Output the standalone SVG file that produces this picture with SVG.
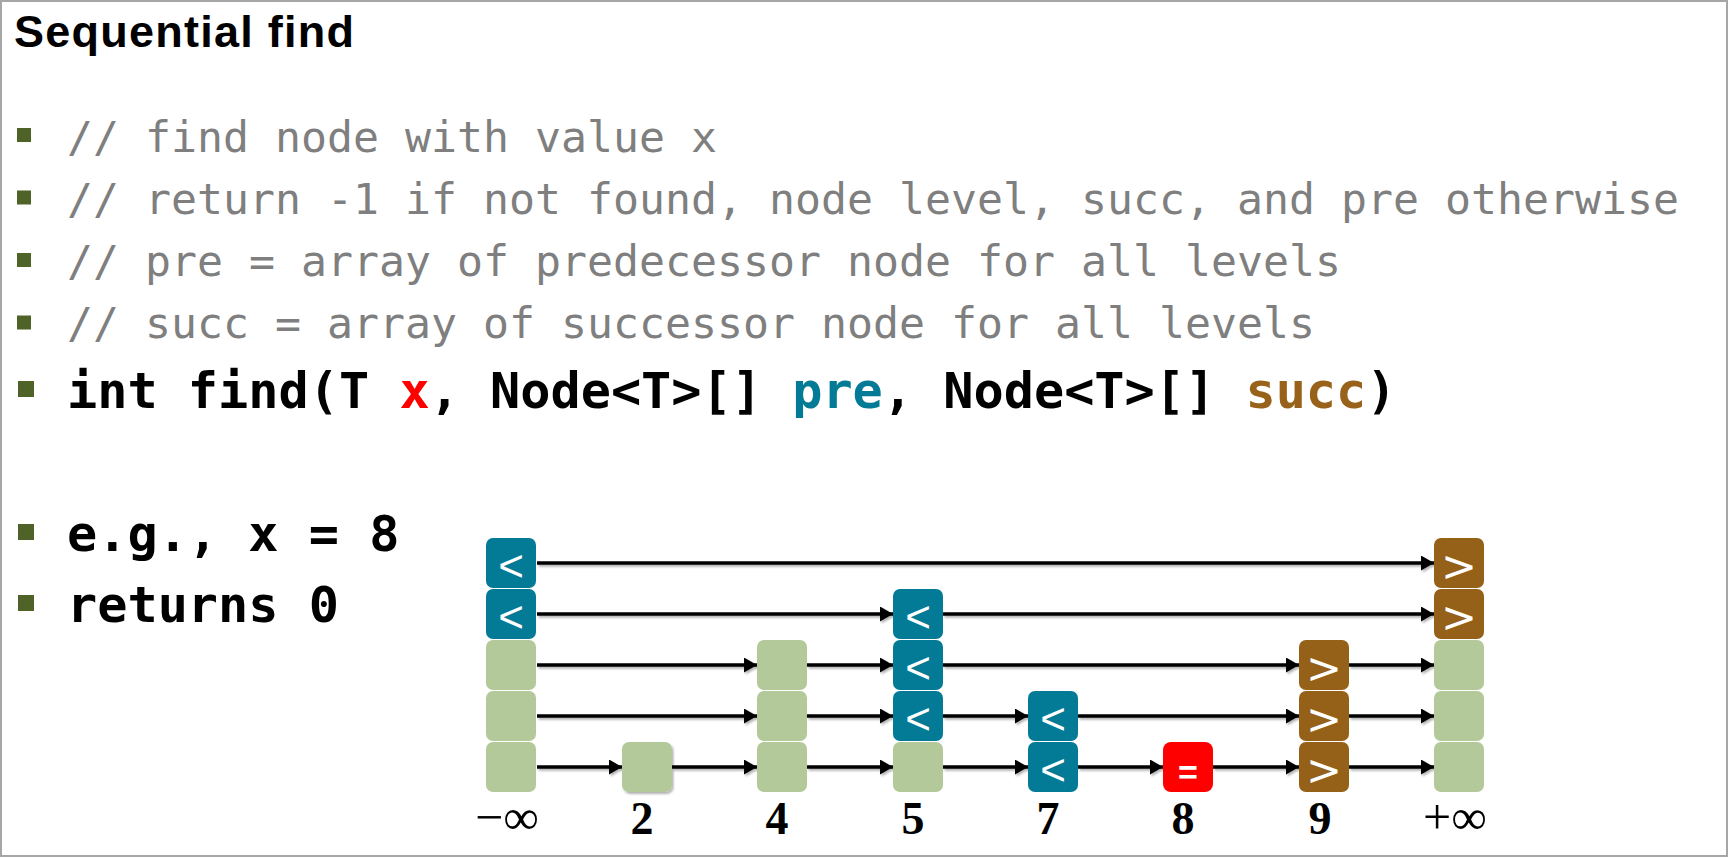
<svg xmlns="http://www.w3.org/2000/svg" width="1733" height="858" viewBox="0 0 1733 858">
<style>
.title{font-family:"Liberation Sans",Arial,sans-serif;font-weight:bold;font-size:45px;fill:#000}
.cm{font-family:"DejaVu Sans Mono","Liberation Mono",monospace;font-size:43.2px;fill:#7F7F7F}
.cd{font-family:"DejaVu Sans Mono","Liberation Mono",monospace;font-weight:bold;font-size:50.2px;fill:#000}
.bul{fill:#4F6228}
.g{fill:#B3C999}
.t{fill:#037B96}
.b{fill:#956017}
.r{fill:#FF0000}
.lt{font-family:"Liberation Sans",Arial,sans-serif;font-size:44px;fill:#fff;text-anchor:middle}
.gt{font-family:"DejaVu Sans","Liberation Sans",sans-serif;font-size:43px;fill:#fff;text-anchor:middle}
.eq{font-family:"Liberation Sans",Arial,sans-serif;font-weight:bold;font-size:34px;fill:#fff;text-anchor:middle}
.lab{font-family:"Liberation Serif","DejaVu Serif",serif;font-weight:bold;font-size:46px;fill:#000;text-anchor:middle}
.inf{font-family:"Liberation Serif","DejaVu Serif",serif;font-size:50px;fill:#000;text-anchor:middle}
.conn line{stroke:#000;stroke-width:3.5;marker-end:url(#ah)}
</style>
<defs>
<marker id="ah" markerUnits="userSpaceOnUse" markerWidth="14" markerHeight="16" refX="13" refY="7.5" orient="auto">
<path d="M0,0 L13,7.5 L0,15 z" fill="#000"/>
</marker>
<filter id="sh" x="-5%" y="-50%" width="110%" height="250%">
<feDropShadow dx="1.5" dy="2" stdDeviation="1.2" flood-color="#000" flood-opacity="0.3"/>
</filter>
</defs>
<rect x="0" y="0" width="1733" height="858" fill="#fff"/>
<rect x="1" y="1" width="1726" height="855" fill="none" stroke="#A6A6A6" stroke-width="2"/>

<g id="text">
<text class="title" x="14" y="47" textLength="340" lengthAdjust="spacing">Sequential find</text>
<rect class="bul" x="17" y="128" width="14" height="14"/>
<rect class="bul" x="17" y="190.5" width="14" height="14"/>
<rect class="bul" x="17" y="253" width="14" height="14"/>
<rect class="bul" x="17" y="315.5" width="14" height="14"/>
<text class="cm" x="67" y="152">// find node with value x</text>
<text class="cm" x="67" y="214">// return -1 if not found, node level, succ, and pre otherwise</text>
<text class="cm" x="67" y="276">// pre = array of predecessor node for all levels</text>
<text class="cm" x="67" y="338">// succ = array of successor node for all levels</text>
<rect class="bul" x="18" y="381" width="16" height="16"/>
<text class="cd" x="67" y="408">int find(T <tspan fill="#FF0000">x</tspan>, Node&lt;T&gt;[] <tspan fill="#037B96">pre</tspan>, Node&lt;T&gt;[] <tspan fill="#98621A">succ</tspan>)</text>
<rect class="bul" x="18" y="524" width="16" height="16"/>
<text class="cd" x="67" y="551">e.g., x = 8</text>
<rect class="bul" x="18" y="595" width="16" height="16"/>
<text class="cd" x="67" y="622">returns 0</text>
</g>

<g id="connectors" class="conn" filter="url(#sh)">
<line x1="537" y1="563" x2="1434" y2="563"/>
<line x1="537" y1="614" x2="893" y2="614"/>
<line x1="943" y1="614" x2="1434" y2="614"/>
<line x1="537" y1="665" x2="757" y2="665"/>
<line x1="807" y1="665" x2="893" y2="665"/>
<line x1="943" y1="665" x2="1299" y2="665"/>
<line x1="1349" y1="665" x2="1434" y2="665"/>
<line x1="537" y1="716" x2="757" y2="716"/>
<line x1="807" y1="716" x2="893" y2="716"/>
<line x1="943" y1="716" x2="1028" y2="716"/>
<line x1="1078" y1="716" x2="1299" y2="716"/>
<line x1="1349" y1="716" x2="1434" y2="716"/>
<line x1="537" y1="767" x2="622" y2="767"/>
<line x1="672" y1="767" x2="757" y2="767"/>
<line x1="807" y1="767" x2="893" y2="767"/>
<line x1="943" y1="767" x2="1028" y2="767"/>
<line x1="1078" y1="767" x2="1163" y2="767"/>
<line x1="1213" y1="767" x2="1299" y2="767"/>
<line x1="1349" y1="767" x2="1434" y2="767"/>
</g>

<g id="node-neg-inf">
<rect class="t" x="486" y="538" width="50" height="50" rx="7"/>
<rect class="t" x="486" y="589" width="50" height="50" rx="7"/>
<rect class="g" x="486" y="640" width="50" height="50" rx="7"/>
<rect class="g" x="486" y="691" width="50" height="50" rx="7"/>
<rect class="g" x="486" y="742" width="50" height="50" rx="7"/>
<text class="lt" x="511" y="581">&lt;</text>
<text class="lt" x="511" y="632">&lt;</text>
<text class="inf" x="507" y="834">−∞</text>
</g>

<g id="node-2">
<rect class="g" x="622" y="742" width="50" height="50" rx="7" filter="url(#sh)"/>
<text class="lab" x="642" y="834">2</text>
</g>

<g id="node-4">
<rect class="g" x="757" y="640" width="50" height="50" rx="7"/>
<rect class="g" x="757" y="691" width="50" height="50" rx="7"/>
<rect class="g" x="757" y="742" width="50" height="50" rx="7"/>
<text class="lab" x="777" y="834">4</text>
</g>

<g id="node-5">
<rect class="t" x="893" y="589" width="50" height="50" rx="7"/>
<rect class="t" x="893" y="640" width="50" height="50" rx="7"/>
<rect class="t" x="893" y="691" width="50" height="50" rx="7"/>
<rect class="g" x="893" y="742" width="50" height="50" rx="7"/>
<text class="lt" x="918" y="632">&lt;</text>
<text class="lt" x="918" y="683">&lt;</text>
<text class="lt" x="918" y="734">&lt;</text>
<text class="lab" x="913" y="834">5</text>
</g>

<g id="node-7">
<rect class="t" x="1028" y="691" width="50" height="50" rx="7"/>
<rect class="t" x="1028" y="742" width="50" height="50" rx="7"/>
<text class="lt" x="1053" y="734">&lt;</text>
<text class="lt" x="1053" y="785">&lt;</text>
<text class="lab" x="1048" y="834">7</text>
</g>

<g id="node-8">
<rect class="r" x="1163" y="742" width="50" height="50" rx="8"/>
<text class="eq" x="1188" y="784">=</text>
<text class="lab" x="1183" y="834">8</text>
</g>

<g id="node-9">
<rect class="b" x="1299" y="640" width="50" height="50" rx="7"/>
<rect class="b" x="1299" y="691" width="50" height="50" rx="7"/>
<rect class="b" x="1299" y="742" width="50" height="50" rx="7"/>
<text class="gt" x="1324" y="683">&gt;</text>
<text class="gt" x="1324" y="734">&gt;</text>
<text class="gt" x="1324" y="785">&gt;</text>
<text class="lab" x="1320" y="834">9</text>
</g>

<g id="node-pos-inf">
<rect class="b" x="1434" y="538" width="50" height="50" rx="7"/>
<rect class="b" x="1434" y="589" width="50" height="50" rx="7"/>
<rect class="g" x="1434" y="640" width="50" height="50" rx="7"/>
<rect class="g" x="1434" y="691" width="50" height="50" rx="7"/>
<rect class="g" x="1434" y="742" width="50" height="50" rx="7"/>
<text class="gt" x="1459" y="581">&gt;</text>
<text class="gt" x="1459" y="632">&gt;</text>
<text class="inf" x="1455" y="834">+∞</text>
</g>
</svg>
